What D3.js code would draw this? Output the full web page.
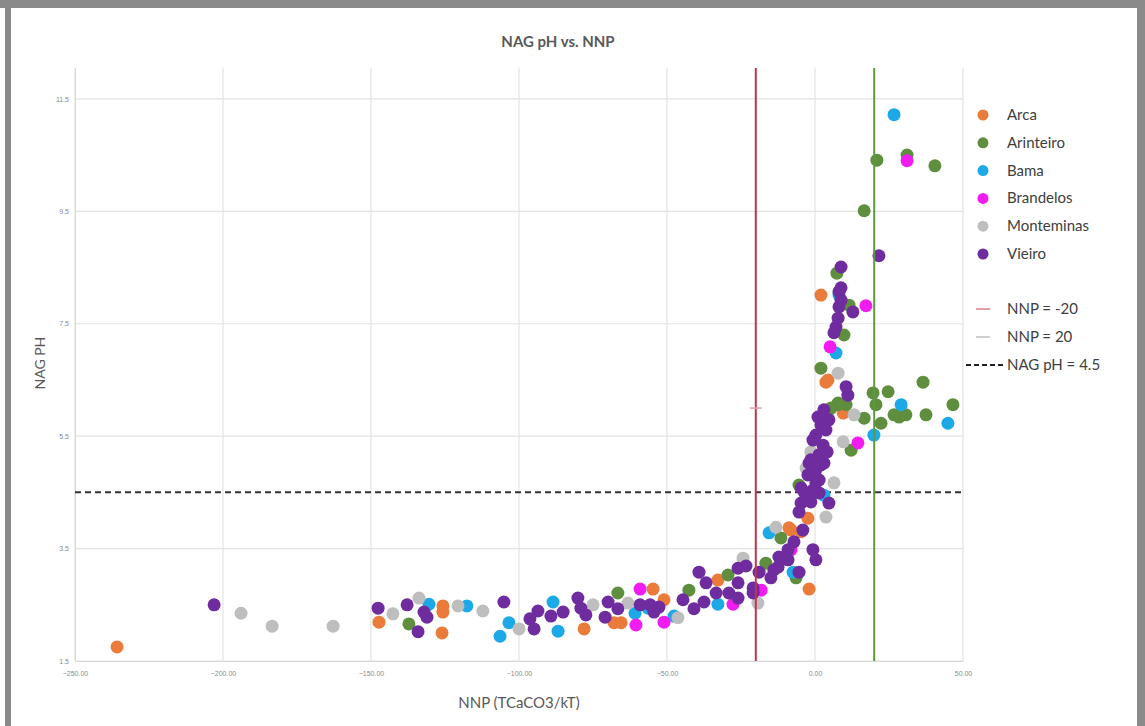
<!DOCTYPE html>
<html>
<head>
<meta charset="utf-8">
<script src="https://cdn.jsdelivr.net/npm/d3@7"></script>
<style>
  body { margin: 0; background: #fff; }
  svg { display: block; font-family: Lato, "Open Sans", sans-serif; }
</style>
</head>
<body>
<div id="chart"></div>
<script>
// data: [NNP, NAG pH]
var arca = [
  [-235.8, 1.75], [-147.3, 2.19], [-125.7, 2.48], [-125.7, 2.37], [-126.0, 2.00],
  [-78.0, 2.07], [-67.9, 2.18], [-65.5, 2.18], [-54.7, 2.78], [-51.0, 2.59],
  [-32.8, 2.94], [-4.7, 3.80], [-8.1, 3.83], [-2.4, 4.04], [-8.8, 3.87],
  [-2.0, 2.78], [3.7, 6.46], [9.5, 5.91], [2.0, 8.01], [4.4, 6.50]
];
var arinteiro = [
  [-137.2, 2.16], [-66.6, 2.71], [-42.6, 2.76], [-29.4, 3.03], [-16.6, 3.24],
  [-6.4, 2.98], [-11.5, 3.69], [-5.4, 4.63], [7.8, 6.09], [4.7, 5.97],
  [10.5, 6.06], [16.6, 5.82], [19.6, 6.27], [20.6, 6.06], [12.2, 5.25],
  [2.0, 6.71], [7.8, 6.06], [5.4, 6.00], [24.7, 6.29], [36.5, 6.46],
  [46.6, 6.06], [26.7, 5.88], [30.7, 5.88], [28.4, 5.84], [37.5, 5.88],
  [22.3, 5.73], [9.8, 7.30], [11.5, 7.83], [7.4, 8.40], [16.6, 9.51],
  [20.9, 10.41], [40.5, 10.31], [31.1, 10.50]
];
var bama = [
  [-130.4, 2.51], [-117.6, 2.48], [-106.4, 1.94], [-103.4, 2.18], [-88.5, 2.55],
  [-86.8, 2.03], [-60.8, 2.35], [-56.4, 2.44], [-47.6, 2.30], [-32.8, 2.51],
  [-15.5, 3.78], [-7.4, 3.08], [3.0, 4.45], [19.9, 5.52], [29.1, 6.06],
  [44.9, 5.73], [26.7, 11.22], [8.1, 8.01], [7.1, 6.98]
];
var brandelos = [
  [-60.5, 2.14], [-59.1, 2.78], [-51.0, 2.19], [-27.7, 2.51], [-18.2, 2.76],
  [-8.1, 3.48], [14.5, 5.38], [5.1, 7.09], [17.2, 7.82], [31.1, 10.40]
];
var monteminas = [
  [-193.9, 2.35], [-183.4, 2.12], [-162.8, 2.12], [-142.6, 2.34], [-133.8, 2.62],
  [-120.6, 2.48], [-112.2, 2.39], [-100.0, 2.07], [-75.0, 2.50], [-63.2, 2.53],
  [-46.3, 2.27], [-24.3, 3.33], [-19.3, 2.53], [-13.2, 3.88], [-3.0, 4.93],
  [6.4, 4.67], [3.7, 4.06], [13.2, 5.88], [9.5, 5.40], [-1.4, 5.22], [7.8, 6.62]
];
var vieiro = [
  [-203.0, 2.50], [-147.6, 2.44], [-137.8, 2.50], [-132.1, 2.37], [-131.1, 2.28],
  [-134.1, 2.02], [-105.1, 2.55], [-96.3, 2.25], [-93.6, 2.39], [-94.9, 2.07],
  [-89.2, 2.30], [-85.1, 2.37], [-80.1, 2.62], [-79.1, 2.44], [-77.4, 2.32],
  [-69.9, 2.55], [-66.6, 2.43], [-70.9, 2.28], [-59.1, 2.50], [-55.7, 2.50],
  [-54.4, 2.37], [-52.7, 2.46], [-44.6, 2.59], [-40.9, 2.43], [-39.2, 3.08],
  [-36.8, 2.89], [-33.4, 2.71], [-37.5, 2.55], [-29.1, 2.71], [-26.0, 3.15],
  [-23.3, 3.19], [-18.9, 3.08], [-26.0, 2.89], [-26.0, 2.62], [-20.9, 2.80],
  [-20.9, 2.71], [-14.9, 2.98], [-12.5, 3.17], [-12.2, 3.35], [-9.1, 3.30],
  [-7.1, 3.62], [-5.4, 3.08], [-0.7, 3.48], [0.3, 3.30], [-13.9, 3.12],
  [-11.5, 3.30], [-9.1, 3.48], [-4.1, 3.83], [-4.7, 4.31], [-5.4, 4.15],
  [-1.4, 4.33], [4.7, 4.31], [-3.7, 4.51], [0.3, 4.67], [-2.0, 5.02],
  [3.0, 5.02], [-4.7, 4.58], [-2.0, 4.36], [1.0, 5.84], [2.0, 5.70],
  [0.3, 5.52], [2.7, 5.34], [1.4, 5.17], [-1.4, 5.08], [0.3, 4.90],
  [1.4, 4.72], [-2.4, 4.81], [-0.7, 4.54], [1.4, 4.49], [3.7, 5.61],
  [-0.7, 5.43], [4.1, 5.22], [2.0, 4.99], [4.7, 5.79], [3.0, 5.97],
  [10.5, 6.38], [11.1, 6.23], [8.8, 8.14], [8.1, 7.80], [12.8, 7.71],
  [7.8, 7.60], [7.1, 7.44], [6.4, 7.34], [8.8, 8.51], [21.6, 8.71],
  [8.1, 8.07], [8.8, 7.92]
];

var seriesNames = ["Arca", "Arinteiro", "Bama", "Brandelos", "Monteminas", "Vieiro"];
var seriesData = [arca, arinteiro, bama, brandelos, monteminas, vieiro];
var seriesColors = ["#EA7B3A", "#5E8E3E", "#1DA9E8", "#F01CF0", "#BEBEBE", "#6E2C9E"];

var xTicks = [-250, -200, -150, -100, -50, 0, 50];
var yTicks = [1.5, 3.5, 5.5, 7.5, 9.5, 11.5];
var nnpLow = -20, nnpHigh = 20, nagLimit = 4.5;

var width = 1145, height = 726;
var margin = {left: 75, right: 182, top: 68, bottom: 65};

var svg = d3.select("#chart").append("svg")
  .attr("width", width).attr("height", height);

// outer frame (left, top, right)
svg.append("rect").attr("x", 0).attr("y", 0).attr("width", width).attr("height", 8).attr("fill", "#8a8a8a");
svg.append("rect").attr("x", 5).attr("y", 0).attr("width", 6).attr("height", height).attr("fill", "#8a8a8a");
svg.append("rect").attr("x", width - 8).attr("y", 0).attr("width", 8).attr("height", height).attr("fill", "#8a8a8a");

var x = d3.scaleLinear().domain([-250, 50]).range([margin.left, width - margin.right]);
var y = d3.scaleLinear().domain([1.5, 12.05]).range([height - margin.bottom, margin.top]);

// grid
svg.append("g").selectAll("line").data(xTicks).enter().append("line")
  .attr("x1", d => x(d)).attr("x2", d => x(d))
  .attr("y1", y(12.05)).attr("y2", y(1.5))
  .attr("stroke", "#e3e3e3").attr("stroke-width", 1.2);
svg.append("g").selectAll("line").data(yTicks).enter().append("line")
  .attr("x1", x(-250)).attr("x2", x(50))
  .attr("y1", d => y(d)).attr("y2", d => y(d))
  .attr("stroke", "#e3e3e3").attr("stroke-width", 1.2);

// axes
var xAxis = svg.append("g").attr("transform", "translate(0," + y(1.5) + ")")
  .call(d3.axisBottom(x).tickValues(xTicks).tickSize(0).tickPadding(10).tickFormat(d3.format(".2f")));
var yAxis = svg.append("g").attr("transform", "translate(" + x(-250) + ",0)")
  .call(d3.axisLeft(y).tickValues(yTicks).tickSize(0).tickPadding(6).tickFormat(d3.format(".1f")));
[xAxis, yAxis].forEach(function(a) {
  a.select(".domain").attr("stroke", "#d9d9d9");
  a.selectAll("text").attr("fill", "#8c8c8c").style("font-size", "7px");
});

// reference lines
svg.append("line")
  .attr("x1", x(-250)).attr("x2", x(50)).attr("y1", y(nagLimit)).attr("y2", y(nagLimit))
  .attr("stroke", "#333").attr("stroke-width", 2).attr("stroke-dasharray", "6,4");

// points
seriesData.forEach(function(data, i) {
  svg.append("g").selectAll("circle").data(data).enter().append("circle")
    .attr("cx", d => x(d[0])).attr("cy", d => y(d[1]))
    .attr("r", 6.5).attr("fill", seriesColors[i]);
});

svg.append("line")
  .attr("x1", x(nnpLow)).attr("x2", x(nnpLow)).attr("y1", y(12.05)).attr("y2", y(1.5))
  .attr("stroke", "#c0354a").attr("stroke-width", 2);
svg.append("line")
  .attr("x1", x(nnpLow) - 6).attr("x2", x(nnpLow) + 6).attr("y1", y(6)).attr("y2", y(6))
  .attr("stroke", "#e8a0a8").attr("stroke-width", 1.5);
svg.append("line")
  .attr("x1", x(nnpHigh)).attr("x2", x(nnpHigh)).attr("y1", y(12.05)).attr("y2", y(1.5))
  .attr("stroke", "#5e9a3c").attr("stroke-width", 2);

// titles
svg.append("text").attr("x", 558).attr("y", 47).attr("text-anchor", "middle")
  .attr("fill", "#595959").style("font-size", "15px").style("font-weight", "bold")
  .text("NAG pH vs. NNP");
svg.append("text").attr("x", (x(-250) + x(50)) / 2).attr("y", 708).attr("text-anchor", "middle")
  .attr("fill", "#595959").style("font-size", "15px")
  .text("NNP (TCaCO3/kT)");
svg.append("text").attr("transform", "translate(45," + y(6.8) + ") rotate(-90)")
  .attr("text-anchor", "middle").attr("fill", "#595959").style("font-size", "14px")
  .text("NAG PH");

// legend
var legend = svg.append("g");
seriesNames.forEach(function(name, i) {
  var ly = 115 + i * 27.8;
  legend.append("circle").attr("cx", 983).attr("cy", ly).attr("r", 5.5).attr("fill", seriesColors[i]);
  legend.append("text").attr("x", 1007).attr("y", ly + 5).attr("fill", "#404040")
    .style("font-size", "15px").text(name);
});
var lineItems = [
  {label: "NNP = -20", color: "#e8a0a8", dash: null, x1: 976, x2: 990},
  {label: "NNP = 20", color: "#cfcfcf", dash: null, x1: 976, x2: 990},
  {label: "NAG pH = 4.5", color: "#222", dash: "5,3", x1: 966, x2: 1003}
];
lineItems.forEach(function(item, i) {
  var ly = 309 + i * 28;
  legend.append("line").attr("x1", item.x1).attr("x2", item.x2).attr("y1", ly).attr("y2", ly)
    .attr("stroke", item.color).attr("stroke-width", 2).attr("stroke-dasharray", item.dash);
  legend.append("text").attr("x", 1007).attr("y", ly + 5).attr("fill", "#404040")
    .style("font-size", "15px").text(item.label);
});
</script>
</body>
</html>
